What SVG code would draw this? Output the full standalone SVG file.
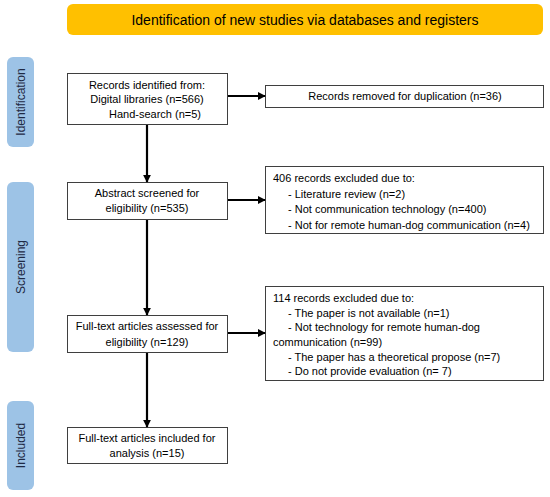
<svg xmlns="http://www.w3.org/2000/svg" width="550" height="497" viewBox="0 0 550 497">
<defs>
<style>
.box{fill:#fff;stroke:#3f3f3f;stroke-width:1}
.t{font-family:"Liberation Sans",Arial,sans-serif;font-size:11px;fill:#000}
.c{text-anchor:middle}
.side{fill:#9dc3e6}
.st{font-family:"Liberation Sans",Arial,sans-serif;font-size:12px;fill:#1f2a44;text-anchor:middle}
.conn{stroke:#000;stroke-width:2.2;fill:none;marker-end:url(#ah)}
</style>
<marker id="ah" viewBox="0 0 10 10" refX="9" refY="5" markerWidth="3.6" markerHeight="3.6" orient="auto" markerUnits="strokeWidth">
<path d="M0,0 L10,5 L0,10 z" fill="#000"/>
</marker>
</defs>
<rect width="550" height="497" fill="#fff"/>
<g id="title">
<rect x="67" y="4" width="476" height="31" rx="6" fill="#ffc000"/>
<text class="t c" x="305" y="24.5" style="font-size:14px">Identification of new studies via databases and registers</text>
</g>
<g id="phase-identification">
<rect class="side" x="7" y="57" width="27" height="90" rx="6"/>
<text class="st" transform="translate(24.8,102) rotate(-90)">Identification</text>
</g>
<g id="phase-screening">
<rect class="side" x="7" y="182" width="27" height="170" rx="6"/>
<text class="st" transform="translate(24.8,267) rotate(-90)">Screening</text>
</g>
<g id="phase-included">
<rect class="side" x="7" y="401" width="27" height="89" rx="6"/>
<text class="st" transform="translate(24.8,445.5) rotate(-90)">Included</text>
</g>
<g id="records-identified">
<rect class="box" x="67.5" y="73.5" width="160" height="51"/>
<text class="t c" x="147" y="89">Records identified from:</text>
<text class="t c" x="147" y="103">Digital libraries (n=566)</text>
<text class="t c" x="155" y="118">Hand-search (n=5)</text>
</g>
<g id="records-removed">
<rect class="box" x="265.5" y="85.5" width="278" height="22"/>
<text class="t c" x="405" y="100">Records removed for duplication (n=36)</text>
</g>
<g id="abstract-screened">
<rect class="box" x="67.5" y="182.5" width="160" height="37"/>
<text class="t c" x="147" y="197">Abstract screened for</text>
<text class="t c" x="147" y="212">eligibility (n=535)</text>
</g>
<g id="excluded-406">
<rect class="box" x="265.5" y="166.5" width="278" height="67"/>
<text class="t" x="273" y="182">406 records excluded due to:</text>
<text class="t" x="288" y="197.5">- Literature review (n=2)</text>
<text class="t" x="288" y="213">- Not communication technology (n=400)</text>
<text class="t" x="288" y="228.5">- Not for remote human-dog communication (n=4)</text>
</g>
<g id="fulltext-assessed">
<rect class="box" x="67.5" y="315.5" width="160" height="37"/>
<text class="t c" x="147" y="330">Full-text articles assessed for</text>
<text class="t c" x="147" y="346">eligibility (n=129)</text>
</g>
<g id="excluded-114">
<rect class="box" x="265.5" y="286.5" width="278" height="94"/>
<text class="t" x="273" y="302">114 records excluded due to:</text>
<text class="t" x="288" y="316.5">- The paper is not available (n=1)</text>
<text class="t" x="288" y="331">- Not technology for remote human-dog</text>
<text class="t" x="273" y="346">communication (n=99)</text>
<text class="t" x="288" y="360.5">- The paper has a theoretical propose (n=7)</text>
<text class="t" x="288" y="375">- Do not provide evaluation (n= 7)</text>
</g>
<g id="fulltext-included">
<rect class="box" x="67.5" y="427.5" width="160" height="36"/>
<text class="t c" x="147" y="442">Full-text articles included for</text>
<text class="t c" x="147" y="457">analysis (n=15)</text>
</g>
<g id="connectors">
<line class="conn" x1="147" y1="125" x2="147" y2="182"/>
<line class="conn" x1="147" y1="220" x2="147" y2="315"/>
<line class="conn" x1="147" y1="353" x2="147" y2="427"/>
<line class="conn" x1="228" y1="96" x2="265" y2="96"/>
<line class="conn" x1="228" y1="200" x2="265" y2="200"/>
<line class="conn" x1="228" y1="333" x2="265" y2="333"/>
</g>
</svg>
